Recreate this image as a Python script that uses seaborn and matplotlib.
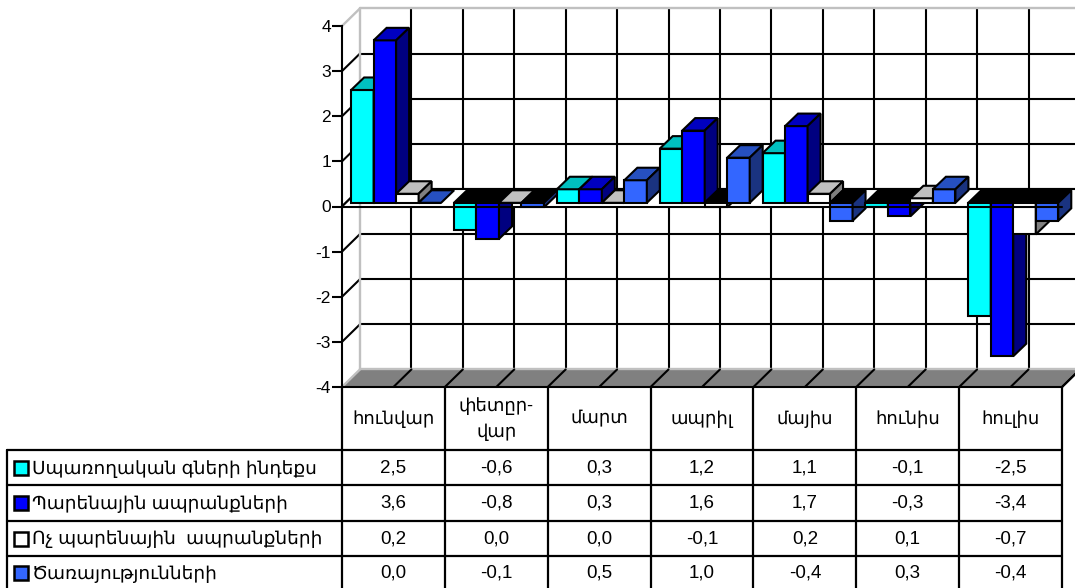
import pandas as pd
import matplotlib
matplotlib.use("Agg")
import matplotlib.pyplot as plt
import seaborn as sns
from matplotlib.patches import Polygon

months = ["հունվար", "փետըր-\nվար", "մարտ", "ապրիլ", "մայիս", "հունիս", "հուլիս"]
series_names = ["Սպառողական գների ինդեքս", "Պարենային ապրանքների",
                "Ոչ պարենային  ապրանքների", "Ծառայությունների"]
cpi = [2.5, -0.6, 0.3, 1.2, 1.1, -0.1, -2.5]
food = [3.6, -0.8, 0.3, 1.6, 1.7, -0.3, -3.4]
non_food = [0.2, 0.0, 0.0, -0.1, 0.2, 0.1, -0.7]
services = [0.0, -0.1, 0.5, 1.0, -0.4, 0.3, -0.4]
y_ticks = [-4, -3, -2, -1, 0, 1, 2, 3, 4]

front_colors = ["#00FFFF", "#0000FF", "#FFFFFF", "#3366FF"]
top_colors = ["#00C0C0", "#0000C0", "#C0C0C0", "#2650C0"]
side_colors = ["#008080", "#000080", "#808080", "#1A3380"]

sns.set_theme(style="white")
plt.rcParams['font.family'] = ['Liberation Sans', 'DejaVu Sans']

W, H = 1075, 588
LW = 1.5
fig = plt.figure(figsize=(W / 100, H / 100), dpi=100, facecolor="white")

# pixel layer for the table below the chart
tbl = fig.add_axes([0, 0, 1, 1], zorder=0)
tbl.set_xlim(0, W)
tbl.set_ylim(H, 0)
tbl.axis("off")

ax = fig.add_axes([342 / W, 1 - 387 / H, 720 / W, 361 / H], zorder=1)
ax.patch.set_alpha(0)

df = pd.DataFrame({"month": months * 4,
                   "series": sum([[n] * 7 for n in series_names], []),
                   "value": cpi + food + non_food + services})
sns.barplot(data=df, x="month", y="value", hue="series", order=months,
            hue_order=series_names, palette=front_colors, width=0.875, gap=0,
            saturation=1, edgecolor="black", linewidth=LW, legend=False, ax=ax)

ax.set_xlim(-0.5, 6.5)
ax.set_ylim(-4, 4)

# depth of the box and of the bars, in data units
wall_dx, wall_dy = 18 / 102.86, 17.6 / 45.1
bar_dx, bar_dy = 13 / 102.86, 12.5 / 45.1
shift_x, shift_y = 2.7 / 102.86, 3.7 / 45.1

x0, x1 = -0.5, 6.5
line_kw = dict(color="black", lw=LW, clip_on=False, zorder=1)
silver_kw = dict(color="#C0C0C0", lw=1.7, clip_on=False, zorder=1.5)

# back wall grid and side wall
for v in y_ticks[1:-1]:
    ax.plot([x0 + wall_dx, x1 + wall_dx], [v + wall_dy] * 2, **line_kw)
    ax.plot([x0, x0 + wall_dx], [v, v + wall_dy], **line_kw)
half_steps = [x0 + 0.5 * i for i in range(1, 15)]
for x in half_steps:
    ax.plot([x + wall_dx] * 2, [-4 + wall_dy, 4 + wall_dy], **line_kw)

# white plane at zero hides the grid between front and back
ax.add_patch(Polygon([(x0, 0), (x0 + wall_dx, wall_dy), (x1 + wall_dx, wall_dy), (x1, 0)],
                     facecolor="white", edgecolor="none", clip_on=False, zorder=1.2))
ax.plot([x0 + wall_dx, x1 + wall_dx], [wall_dy, wall_dy], color="black", lw=LW, clip_on=False, zorder=1.3)
ax.plot([x0, x0 + wall_dx], [0, wall_dy], color="black", lw=LW, clip_on=False, zorder=1.3)

ax.plot([x0 + wall_dx] * 2, [-4 + wall_dy, 4 + wall_dy], **silver_kw)
ax.plot([x0 + wall_dx, x1 + wall_dx], [4 + wall_dy] * 2, **silver_kw)
ax.plot([x0, x0 + wall_dx], [4, 4 + wall_dy], **silver_kw)

# floor with its diagonal marks
ax.add_patch(Polygon([(x0, -4), (x0 + wall_dx, -4 + wall_dy), (x1 + wall_dx, -4 + wall_dy), (x1, -4)],
                     facecolor="#808080", edgecolor="none", clip_on=False, zorder=1.4))
ax.plot([x0 + wall_dx, x1 + wall_dx], [-4 + wall_dy] * 2, **silver_kw)
ax.plot([x0, x0 + wall_dx], [-4, -4 + wall_dy], **silver_kw)
for x in half_steps + [x1]:
    ax.plot([x, x + wall_dx], [-4, -4 + wall_dy], color="black", lw=LW, clip_on=False, zorder=1.6)

# give each bar of the barplot a top and a side, painted left to right
bars = []
for s, container in enumerate(ax.containers):
    for bar in container:
        bars.append((bar.get_x(), s, bar))
bars.sort(key=lambda b: b[0])

for n, (_, s, bar) in enumerate(bars):
    z = 3 + n * 0.1
    bar.set_x(bar.get_x() + shift_x)
    bar.set_y(shift_y)
    bar.set_zorder(z)
    bar.set_clip_on(False)
    left = bar.get_x()
    right = left + bar.get_width()
    h = bar.get_height()
    upper = shift_y + max(h, 0)
    lower = shift_y + min(h, 0)
    top_color = "black" if h < 0 else top_colors[s]
    edge = dict(edgecolor="black", linewidth=LW, clip_on=False, zorder=z)
    ax.add_patch(Polygon([(left, upper), (left + bar_dx, upper + bar_dy),
                          (right + bar_dx, upper + bar_dy), (right, upper)],
                         facecolor=top_color, **edge))
    if h != 0:
        ax.add_patch(Polygon([(right, upper), (right + bar_dx, upper + bar_dy),
                              (right + bar_dx, lower + bar_dy), (right, lower)],
                             facecolor=side_colors[s], **edge))

ax.plot([x0, x1], [0, 0], color="black", lw=LW, clip_on=False, zorder=20)

sns.despine(ax=ax, top=True, right=True)
for side in ["left", "bottom"]:
    ax.spines[side].set_color("black")
    ax.spines[side].set_linewidth(LW)
ax.set_yticks(y_ticks)
ax.set_yticklabels([str(v) for v in y_ticks], fontsize=12.5, color="black")
ax.tick_params(axis="y", left=True, length=7, width=LW, color="black", pad=1)
ax.set_xticks([])
ax.set_xlabel("")
ax.set_ylabel("")

# data table
col_x = [342 + 102.86 * i for i in range(8)]
row_y = [450, 485, 521, 556]
for x in col_x:
    tbl.plot([x, x], [387, H], color="black", lw=1.6)
tbl.plot([7, 7], [450, H], color="black", lw=1.6)
for y in row_y:
    tbl.plot([7, 1062], [y, y], color="black", lw=1.6)

for i, m in enumerate(months):
    tbl.text((col_x[i] + col_x[i + 1]) / 2, 419, m, ha="center", va="center",
             fontsize=13, linespacing=1.6, color="black")

row_mid = [468, 503, 538.5, 573]
for r, (name, vals) in enumerate(zip(series_names, [cpi, food, non_food, services])):
    tbl.add_patch(plt.Rectangle((14, row_mid[r] - 7), 13.5, 14, facecolor=front_colors[r],
                                edgecolor="black", linewidth=1.8))
    tbl.text(32, row_mid[r] + 1, name, ha="left", va="center", fontsize=13.3, color="black")
    for i, v in enumerate(vals):
        tbl.text((col_x[i] + col_x[i + 1]) / 2, row_mid[r], f"{v:.1f}".replace(".", ","),
                 ha="center", va="center", fontsize=13.5, color="black")

fig.savefig("out.png", dpi=100)
